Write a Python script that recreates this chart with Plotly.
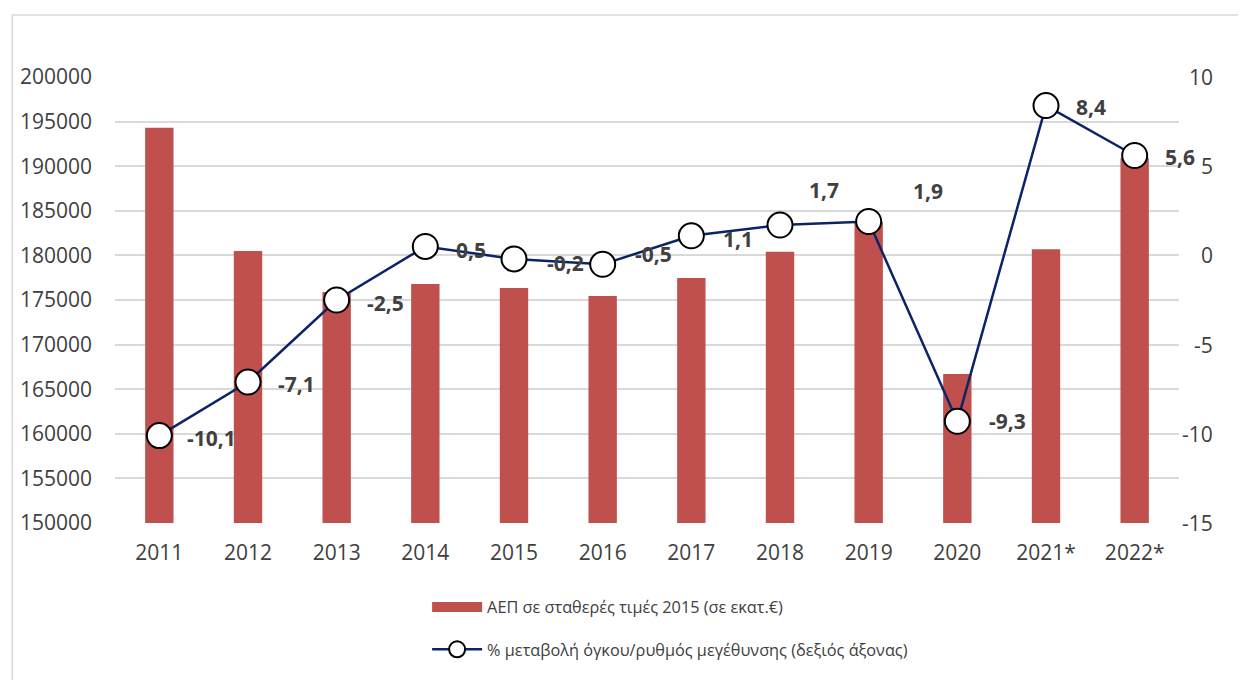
import plotly.graph_objects as go

# ---- data ----
years = ["2011", "2012", "2013", "2014", "2015", "2016", "2017", "2018", "2019", "2020", "2021*", "2022*"]
gdp_constant_2015 = [194300, 180500, 175900, 176800, 176350, 175450, 177470, 180400, 183800, 166700, 180700, 190900]
growth_pct = [-10.1, -7.1, -2.5, 0.5, -0.2, -0.5, 1.1, 1.7, 1.9, -9.3, 8.4, 5.6]

left_ticks = list(range(150000, 200001, 5000))
right_ticks = [10, 5, 0, -5, -10, -15]
right_ticktext = ["10", "5", "0", "-5", "-10", "-15"]

# label offsets (px): (xshift, yshift)
label_offsets = [(26, -2), (28, -2), (28, -3), (29, -4), (31, -4), (30, 10),
                 (30, -3), (27, 35), (42, 31), (30, 0), (28, -1), (28, -1)]

TXT = "#404040"
FONT = "Open Sans"
BAR_NAME = "ΑΕΠ σε σταθερές τιμές 2015 (σε εκατ.€)"
LINE_NAME = "% μεταβολή όγκου/ρυθμός μεγέθυνσης (δεξιός άξονας)"

fig = go.Figure()
fig.add_trace(go.Bar(
    x=years, y=gdp_constant_2015, name=BAR_NAME,
    marker=dict(color="#C0504D", line=dict(width=0)),
    width=0.32, showlegend=False, legendgroup="a",
))
# legend swatch for the bars (wide rectangle like the original)
fig.add_trace(go.Scatter(
    x=[None], y=[None], mode="lines", name=BAR_NAME,
    line=dict(color="#C0504D", width=11), legendgroup="a", hoverinfo="skip",
))
fig.add_trace(go.Scatter(
    x=years, y=growth_pct, yaxis="y2", mode="lines+markers", name=LINE_NAME,
    line=dict(color="#0B2468", width=2.5),
    marker=dict(size=25, color="white", line=dict(color="black", width=2)),
    legendgroup="b",
))

for i, (v, (dx, dy)) in enumerate(zip(growth_pct, label_offsets)):
    fig.add_annotation(
        x=i, y=v, xref="x", yref="y2",
        text="<b>" + f"{v:.1f}".replace(".", ",") + "</b>",
        showarrow=False, xanchor="left", yanchor="middle",
        xshift=dx, yshift=dy,
        font=dict(family=FONT, size=21, color=TXT),
    )

# right-axis tick labels, right-aligned like the original
for tv, tt in zip(right_ticks, right_ticktext):
    fig.add_annotation(
        x=1, y=tv, xref="paper", yref="y2", text=tt,
        showarrow=False, xanchor="right", yanchor="middle", xshift=36,
        font=dict(family=FONT, size=21, color=TXT),
    )

# page body has an 8px margin, so figure coords = screen coords - 8
W, H = 1246, 680
ml, mt = 104, 69
pw, ph = 1067, 446
mr, mb = W - ml - pw, H - mt - ph
bottom = mt + ph

# outer chart border (cropped on right/bottom)
fig.add_shape(type="rect", xref="paper", yref="paper",
              x0=(1 - ml) / pw, x1=(W + 10 - ml) / pw,
              y0=-(H + 10 - bottom) / ph, y1=(bottom - 7) / ph,
              line=dict(color="#D9D9D9", width=1.5), fillcolor="rgba(0,0,0,0)", layer="below")

fig.update_layout(
    width=W, height=H,
    margin=dict(l=ml, r=mr, t=mt, b=mb),
    paper_bgcolor="white", plot_bgcolor="white",
    font=dict(family=FONT, color=TXT, size=21),
    xaxis=dict(type="category", range=[-0.5, len(years) - 0.5], autorange=False,
               showgrid=False, showline=False, zeroline=False,
               ticks="", ticklabelstandoff=15, tickfont=dict(size=21, color=TXT)),
    yaxis=dict(range=[150000, 200000], tickvals=left_ticks, tickformat="d", showgrid=True,
               gridcolor="#D9D9D9", gridwidth=1.5, zeroline=False, showline=False,
               ticks="", ticklabelstandoff=22, tickfont=dict(size=21, color=TXT)),
    yaxis2=dict(range=[-15, 10], overlaying="y", side="right", tickvals=right_ticks,
                showticklabels=False, showgrid=False, zeroline=False, showline=False,
                ticks=""),
    showlegend=True,
    legend=dict(orientation="v", x=(417 - ml) / pw, xanchor="left",
                y=-(582 - bottom) / ph, yanchor="top",
                traceorder="grouped", tracegroupgap=18, itemwidth=50,
                font=dict(family=FONT, size=16.3, color=TXT),
                bgcolor="rgba(0,0,0,0)"),
)

fig.write_html("out.html")
